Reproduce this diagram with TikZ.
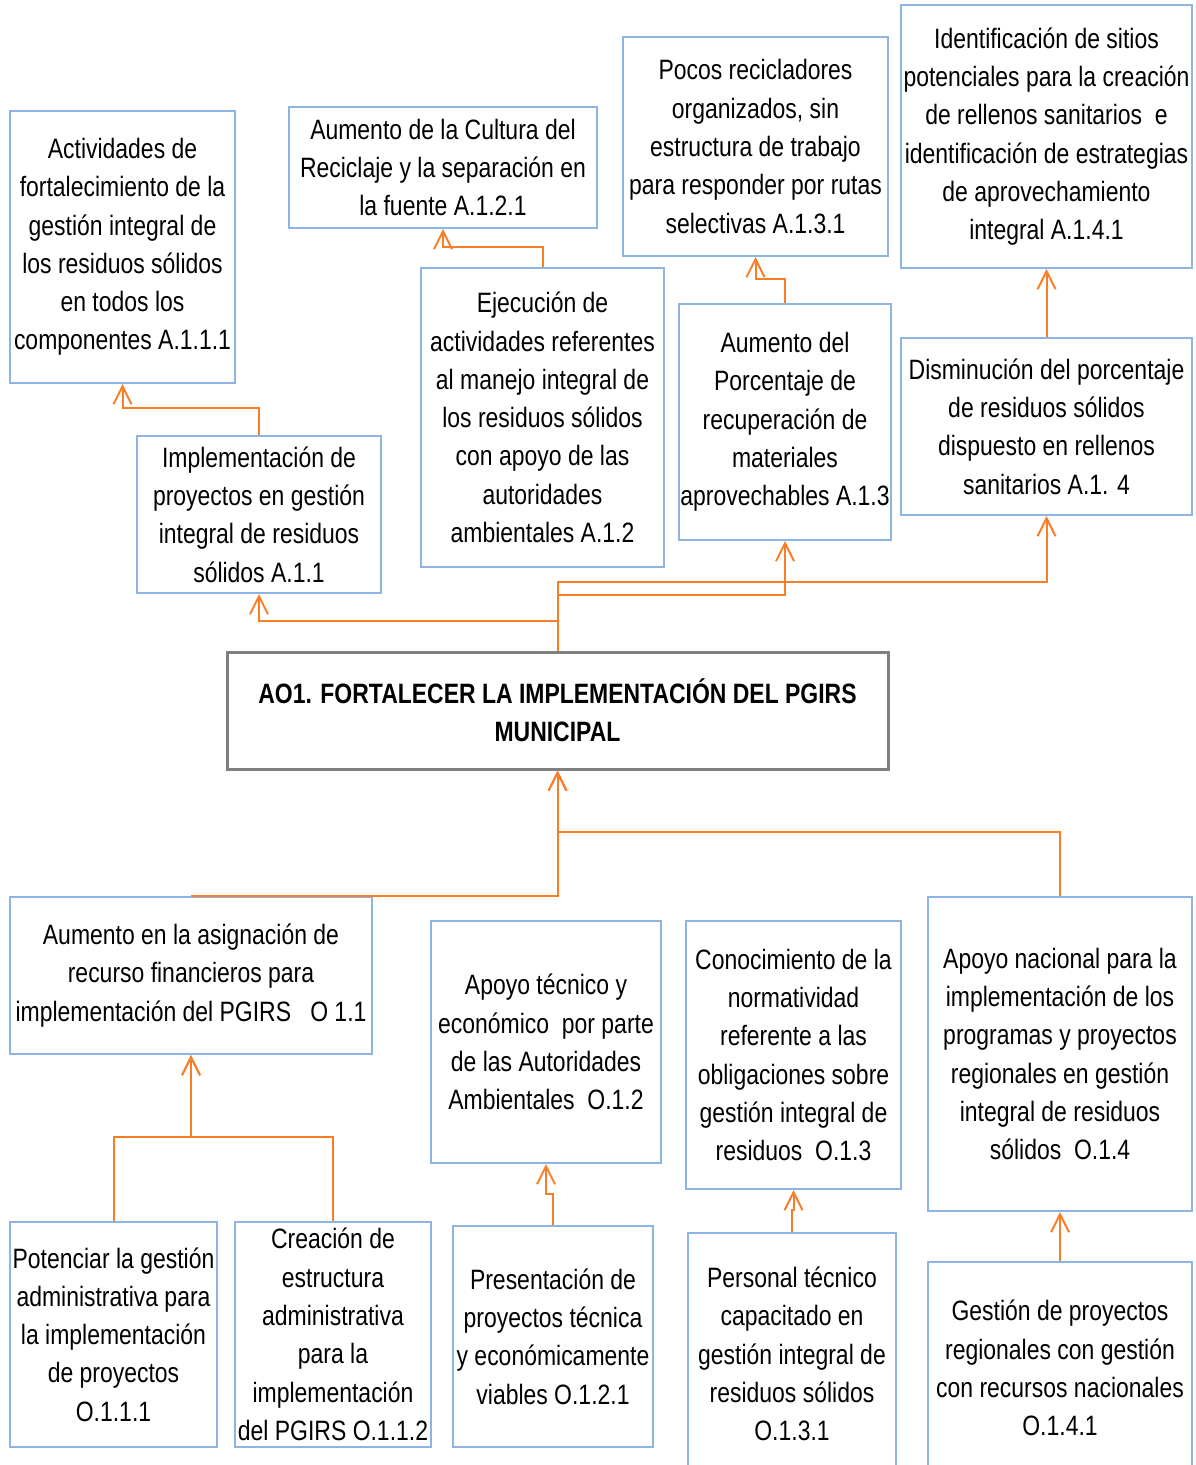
\documentclass[tikz,border=0pt]{standalone}
\usepackage{fontspec}
\setmainfont{Liberation Sans}[FakeStretch=0.82]
\usetikzlibrary{arrows.meta}
\definecolor{boxblue}{RGB}{142,180,227}
\definecolor{lineor}{RGB}{250,125,40}
\definecolor{aogray}{RGB}{128,128,128}
\tikzset{
  box/.style={draw=boxblue, line width=2pt, fill=white, align=center, inner sep=0pt,
    font=\fontsize{28}{38.3}\selectfont},
  aobox/.style={draw=aogray, line width=3pt, fill=white, align=center, inner sep=0pt,
    font=\bfseries\fontsize{28}{38.3}\selectfont},
  conn/.style={draw=lineor, line width=2pt, -{Straight Barb[length=18pt,width=18pt,line width=2pt]}},
}
\newcommand{\bx}[7]{% name, x1, y1, x2, y2, text, style
  \node[#7, minimum width={#4-#2}, minimum height={#5-#3}] (#1) at ({(#2+#4)/2},{(#3+#5)/2}) {#6};}
\begin{document}
\begin{tikzpicture}[x=1pt,y=-1pt]
\useasboundingbox (0,0) rectangle (1195,1465);
% top row
\bx{A111}{10}{111}{235}{383}{Actividades de\\fortalecimiento de la\\gestión integral de\\los residuos sólidos\\en todos los\\componentes A.1.1.1}{box}
\bx{A121}{289}{107}{597}{228}{Aumento de la Cultura del\\Reciclaje y la separación en\\la fuente A.1.2.1}{box}
\bx{A131}{623}{37}{888}{256}{Pocos recicladores\\organizados, sin\\estructura de trabajo\\para responder por rutas\\selectivas A.1.3.1}{box}
\bx{A141}{901}{5}{1192}{268}{Identificación de sitios\\potenciales para la creación\\de rellenos sanitarios \ e\\identificación de estrategias\\de aprovechamiento\\integral A.1.4.1}{box}
% second row
\bx{A11}{137}{436}{381}{593}{Implementación de\\proyectos en gestión\\integral de residuos\\sólidos A.1.1}{box}
\bx{A12}{421}{268}{664}{567}{Ejecución de\\actividades referentes\\al manejo integral de\\los residuos sólidos\\con apoyo de las\\autoridades\\ambientales A.1.2}{box}
\bx{A13}{679}{304}{891}{540}{Aumento del\\Porcentaje de\\recuperación de\\materiales\\aprovechables A.1.3}{box}
\bx{A14}{901}{338}{1192}{515}{Disminución del porcentaje\\de residuos sólidos\\dispuesto en rellenos\\sanitarios A.1. 4}{box}
% center
\bx{AO}{227}{652}{888}{769}{AO1. FORTALECER LA IMPLEMENTACIÓN DEL PGIRS\\MUNICIPAL}{aobox}
% objectives
\bx{O11}{10}{897}{372}{1054}{Aumento en la asignación de\\recurso financieros para\\implementación del PGIRS \ \ O 1.1}{box}
\bx{O12}{431}{921}{661}{1163}{Apoyo técnico y\\económico \ por parte\\de las Autoridades\\Ambientales \ O.1.2}{box}
\bx{O13}{686}{921}{901}{1189}{Conocimiento de la\\normatividad\\referente a las\\obligaciones sobre\\gestión integral de\\residuos \ O.1.3}{box}
\bx{O14}{928}{897}{1192}{1211}{Apoyo nacional para la\\implementación de los\\programas y proyectos\\regionales en gestión\\integral de residuos\\sólidos \ O.1.4}{box}
% bottom row
\bx{O111}{10}{1222}{217}{1447}{Potenciar la gestión\\administrativa para\\la implementación\\de proyectos\\O.1.1.1}{box}
\bx{O112}{235}{1222}{431}{1447}{Creación de\\estructura\\administrativa\\para la\\implementación\\del PGIRS O.1.1.2}{box}
\bx{O121}{453}{1226}{653}{1447}{Presentación de\\proyectos técnica\\y económicamente\\viables O.1.2.1}{box}
\bx{O131}{688}{1233}{896}{1475}{Personal técnico\\capacitado en\\gestión integral de\\residuos sólidos\\O.1.3.1}{box}
\bx{O141}{928}{1262}{1192}{1474}{Gestión de proyectos\\regionales con gestión\\con recursos nacionales\\O.1.4.1}{box}
% connectors upper part
\draw[conn] (A11.north) -- ++(0,-27) -| (A111.south);
\draw[conn] (A12.north) -- ++(0,-20) -| (A121.south);
\draw[conn] (A13.north) -- ++(0,-24) -| (A131.south);
\draw[conn] (A14.north) -- (A141.south);
\draw[conn] (AO.north) -- ++(0,-30) -| (A11.south);
\draw[conn] (AO.north) -- ++(0,-56) -| (A13.south);
\draw[conn] (AO.north) -- ++(0,-69) -| (A14.south);
% connectors lower part
\draw[conn] (O11.north) -| (AO.south);
\draw[conn] (O14.north) -- ++(0,-64) -| (AO.south);
\draw[conn] (O111.north) -- ++(0,-84) -| (O11.south);
\draw[conn] (O112.north) -- ++(0,-84) -| (O11.south);
\draw[conn] (O121.north) -- ++(0,-31) -| (O12.south);
\draw[conn] (O131.north) -- ++(0,-22) -| (O13.south);
\draw[conn] (O141.north) -- ++(0,-24) -| (O14.south);
\end{tikzpicture}
\end{document}
